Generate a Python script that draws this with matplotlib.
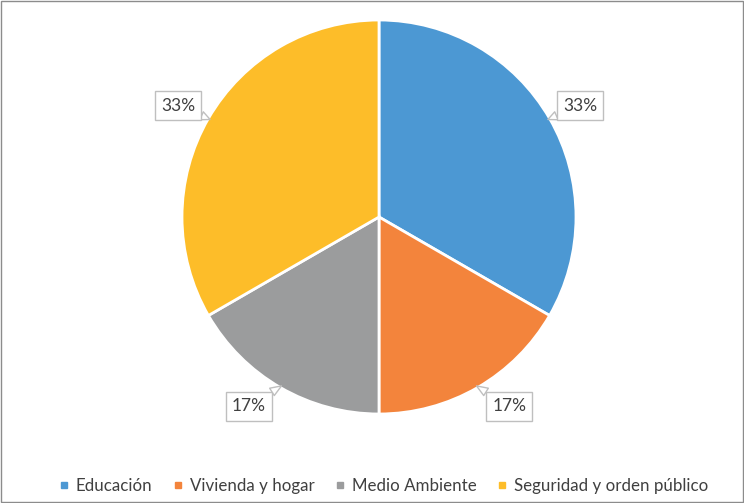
import matplotlib
matplotlib.use("Agg")
import matplotlib.pyplot as plt
import numpy as np
from matplotlib.patches import Rectangle
from matplotlib.lines import Line2D

categories = ["Educación", "Vivienda y hogar", "Medio Ambiente", "Seguridad y orden público"]
values = [2, 1, 1, 2]
labels = ["33%", "17%", "17%", "33%"]
colors = ["#4C98D3", "#F3843C", "#9B9C9D", "#FDBD29"]

plt.rcParams['font.family'] = ['Lato', 'DejaVu Sans']

fig = plt.figure(figsize=(7.44, 5.03), dpi=100)
ax = fig.add_axes([0, 0, 1, 1])

cx, cy, r = 379, 286, 197
wedges, _ = ax.pie(values, colors=colors, startangle=90, counterclock=False,
                   center=(cx, cy), radius=r, frame=True,
                   wedgeprops=dict(edgecolor='white', linewidth=2))
ax.set_xlim(0, 744)
ax.set_ylim(0, 503)
ax.set_aspect('equal')
ax.axis('off')

for w, lab in zip(wedges, labels):
    mid_deg = (w.theta1 + w.theta2) / 2
    mid = np.deg2rad(mid_deg)
    s = np.sin(mid)
    shift = 4.5 if s < 0 else 1.0
    ang = mid + np.deg2rad(shift) * np.sign(np.cos(mid)) * (1 if s < 0 else -1)
    px, py = cx + 0.99 * r * np.cos(mid), cy + 0.99 * r * np.sin(mid)
    tx, ty = cx + 1.167 * r * np.cos(ang), cy + 1.167 * r * np.sin(ang)
    ax.annotate(lab, xy=(px, py), xytext=(tx, ty), ha='center', va='center',
                fontsize=12.5, color='#404040',
                bbox=dict(boxstyle='square,pad=0.35', fc='white', ec='#BFBFBF', lw=1),
                arrowprops=dict(arrowstyle='wedge,tail_width=0.5', fc='white', ec='#BFBFBF', lw=1,
                                shrinkA=0, shrinkB=0))

handles = [Line2D([0], [0], marker='s', linestyle='', markersize=5,
                  markerfacecolor=c, markeredgecolor=c) for c in colors]
fig.legend(handles, categories, loc='lower center', ncol=4, frameon=False,
           bbox_to_anchor=(0.514, -0.012), fontsize=12.2, labelcolor='#404040',
           handletextpad=0.3, columnspacing=1.1, handlelength=0.8)

fig.patches.append(Rectangle((0.001, 0.001), 0.997, 0.997, transform=fig.transFigure,
                             fill=False, ec='#8C8C8C', lw=1))

fig.savefig("out.png", dpi=100)
